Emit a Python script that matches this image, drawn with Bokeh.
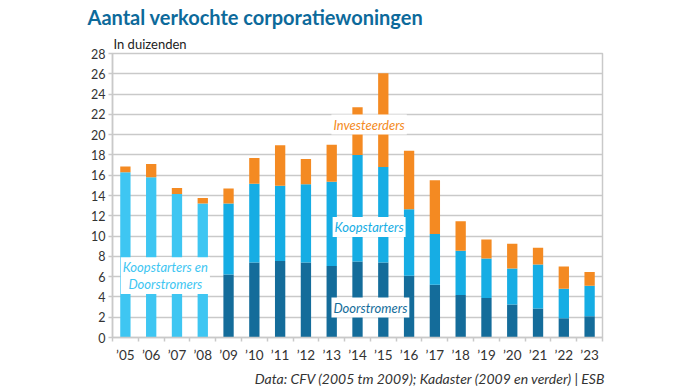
from bokeh.plotting import figure
from bokeh.models import (ColumnDataSource, Range1d, FixedTicker, Label, Title)
from bokeh.embed import file_html
from bokeh.resources import INLINE

years = ["’05", "’06", "’07", "’08", "’09", "’10", "’11", "’12", "’13", "’14",
         "’15", "’16", "’17", "’18", "’19", "’20", "’21", "’22", "’23"]
# thousands
combined = [16.3, 15.8, 14.15, 13.2, 0, 0, 0, 0, 0, 0, 0, 0, 0, 0, 0, 0, 0, 0, 0]
doorstromers = [0, 0, 0, 0, 6.2, 7.4, 7.55, 7.4, 7.05, 7.5, 7.4, 6.1, 5.2, 4.2, 3.9, 3.25, 2.85, 1.9, 2.1]
koopstarters = [0, 0, 0, 0, 7.0, 7.75, 7.4, 7.7, 8.3, 10.5, 9.4, 6.55, 5.0, 4.35, 3.9, 3.55, 4.35, 2.9, 3.0]
investeerders = [0.55, 1.3, 0.6, 0.55, 1.5, 2.55, 4.0, 2.5, 3.65, 4.7, 9.25, 5.75, 5.3, 2.9, 1.85, 2.45, 1.65, 2.2, 1.35]
y_ticks = list(range(0, 29, 2))

title_text = "Aantal verkochte corporatiewoningen"
unit_text = "In duizenden"
source_text = "Data: CFV (2005 tm 2009); Kadaster (2009 en verder) | ESB"

C_LIGHT = "#3ec6f2"
C_MID = "#16ade4"
C_DARK = "#146c9a"
C_ORANGE = "#f48a22"
C_TITLE = "#0d6a9b"
GRID = "#c9c9c9"
FONT = "Lato"

xs = list(range(len(years)))
src = ColumnDataSource(dict(x=xs, combined=combined, doorstromers=doorstromers,
                            koopstarters=koopstarters, investeerders=investeerders))

p = figure(width=690, height=388, output_backend="svg", toolbar_location=None,
           x_range=Range1d(-0.5, len(years) - 0.5), y_range=Range1d(0, 28),
           min_border_left=112, min_border_right=88, min_border_top=53,
           min_border_bottom=51, title=title_text)
p.background_fill_color = "white"
p.border_fill_color = "white"
p.outline_line_color = GRID
p.outline_line_width = 1.5

# main title (outermost)
p.title.text_font = FONT
p.title.text_font_size = "20px"
p.title.text_font_style = "bold"
p.title.text_color = C_TITLE
p.title.align = "left"
p.title.vertical_align = "top"
p.title.offset = -25
p.title.standoff = 3

# unit subtitle (closest to the frame)
p.add_layout(Title(text=unit_text, text_font=FONT, text_font_style="normal",
                   text_font_size="13px", text_color="#222222", align="left",
                   offset=1, standoff=3), "above")

# footer
p.add_layout(Title(text=source_text, text_font=FONT, text_font_style="italic",
                   text_font_size="14px", text_color="#333333", align="right",
                   offset=-3, standoff=4), "below")

p.vbar_stack(["combined", "doorstromers", "koopstarters", "investeerders"], x="x",
             width=0.4, source=src, color=[C_LIGHT, C_DARK, C_MID, C_ORANGE],
             line_color=None)

# axes
p.yaxis.ticker = FixedTicker(ticks=y_ticks)
p.ygrid.ticker = FixedTicker(ticks=y_ticks)
p.ygrid.grid_line_color = GRID
p.ygrid.grid_line_width = 1.5
p.xgrid.grid_line_color = None
p.yaxis.axis_line_color = GRID
p.yaxis.axis_line_width = 1.5
p.yaxis.major_tick_line_color = GRID
p.yaxis.major_tick_line_width = 1.5
p.yaxis.major_tick_out = 4
p.yaxis.major_tick_in = 0
p.yaxis.minor_tick_line_color = None
p.yaxis.major_label_standoff = 3
p.yaxis.major_label_text_font = FONT
p.yaxis.major_label_text_font_size = "12.5px"
p.yaxis.major_label_text_color = "#333333"

p.xaxis.ticker = FixedTicker(ticks=xs, minor_ticks=[i - 0.5 for i in range(len(years) + 1)])
p.xaxis.major_label_overrides = {i: years[i] for i in xs}
p.xaxis.axis_line_color = GRID
p.xaxis.axis_line_width = 1.5
p.xaxis.major_tick_line_color = None
p.xaxis.minor_tick_line_color = GRID
p.xaxis.minor_tick_line_width = 1.5
p.xaxis.minor_tick_out = 4
p.xaxis.minor_tick_in = 0
p.xaxis.major_label_standoff = 3
p.xaxis.major_label_text_font = FONT
p.xaxis.major_label_text_font_size = "13.5px"
p.xaxis.major_label_text_color = "#333333"

# in-chart series labels
def tag(x, y, txt, col):
    p.add_layout(Label(x=x, y=y, text=txt, text_font=FONT, text_font_style="italic",
                       text_font_size="13px", text_color=col, text_align="center",
                       text_baseline="middle", background_fill_color="white",
                       padding=2, text_line_height=1.05))

tag(1.55, 6.1, "Koopstarters en\nDoorstromers", C_LIGHT)
tag(9.45, 21.0, "Investeerders", C_ORANGE)
tag(9.45, 10.9, "Koopstarters", C_MID)
tag(9.5, 2.95, "Doorstromers", C_DARK)

open("out.html", "w").write(file_html(p, INLINE))
